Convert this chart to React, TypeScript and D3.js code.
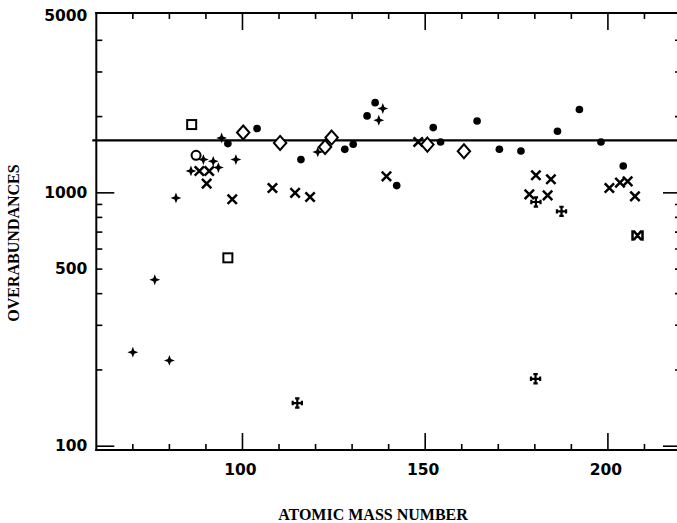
import React from "react";
import * as d3 from "d3";

// ---- data (atomic mass number, overabundance) ----
const filledCircles: [number, number][] = [
  [96, 1565], [104, 1794], [116, 1353], [128, 1485], [130.3, 1555], [134.1, 2012],
  [136.3, 2270], [142.2, 1068], [152.2, 1810], [154.2, 1588], [164.2, 1922],
  [170.3, 1486], [176.2, 1463], [186.2, 1751], [192.2, 2133], [198.1, 1588], [204.2, 1276],
];
const stars: [number, number][] = [
  [70, 235], [76, 454], [80, 218], [81.8, 955], [85.9, 1220], [89.3, 1353], [92, 1332],
  [93.4, 1258], [94.3, 1647], [98.2, 1353], [120.6, 1450], [137.3, 1934], [138.4, 2152],
];
const crosses: [number, number][] = [
  [88.2, 1220], [90.9, 1220], [90.2, 1087], [97.2, 943], [108.2, 1045], [114.4, 1000],
  [118.5, 963], [139.4, 1162], [148.1, 1588], [178.5, 986], [180.3, 1173], [183.5, 977],
  [184.4, 1131], [200.4, 1045], [203.3, 1097], [205.4, 1110], [207.4, 969],
];
const openSquares: [number, number][] = [[86.1, 1860], [96, 554]];
const openDiamonds: [number, number][] = [
  [100.2, 1730], [110.3, 1574], [122.6, 1517], [124.4, 1652], [150.6, 1550], [160.6, 1459],
];
const openCircles: [number, number][] = [[87.3, 1406]];
const maltese: [number, number][] = [[115, 148], [180.3, 920], [187.3, 845], [180.2, 184.5]];
const barredCrosses: [number, number][] = [[208.1, 679]];

const meanLevel = 1610;

const xMajorTicks = [100, 150, 200];
const xMinorTicks = [70, 80, 90, 110, 120, 130, 140, 160, 170, 180, 190, 210];
const yMajorTicks = [100, 1000];
const yMinorTicks = [200, 300, 400, 500, 600, 700, 800, 900, 2000, 3000, 4000];
const yLabels = [100, 500, 1000, 5000];

const xTitle = "ATOMIC MASS NUMBER";
const yTitle = "OVERABUNDANCES";

const W = 677;
const H = 523;
const L = 96.3, R = 681, T = 13, B = 450;

const x = d3.scaleLinear().domain([60, 220]).range([L, R]);
const y = d3.scaleLog().domain([96.6, 5127]).range([B, T]);

const starPath = "M0,-5.4L1.5,-1.5L5.4,0L1.5,1.5L0,5.4L-1.5,1.5L-5.4,0L-1.5,-1.5Z";
const crossPath = "M-3.8,-3.8L3.8,3.8M-3.8,3.8L3.8,-3.8";
const maltesePath = "M-4.6,0H4.6M0,-4.6V4.6M-4.6,-2.2V2.2M4.6,-2.2V2.2M-2.2,-4.6H2.2M-2.2,4.6H2.2";
const diamondPath = "M0,-7L6.2,0L0,7L-6.2,0Z";
const barredPath = "M-3,-3.6L3,3.6M-3,3.6L3,-3.6M-5,-4V4M5,-4V4";

const sansFont = "DejaVu Sans, sans-serif";
const serifFont = "Liberation Serif, serif";

export default function App() {
  const circleSym = d3.symbol(d3.symbolCircle, 46)() as string;
  const tr = (d: [number, number]) => `translate(${x(d[0])},${y(d[1])})`;

  return (
    <svg
      width={W}
      height={H}
      style={{ position: "absolute", left: 0, top: 0, background: "#fff" }}
    >
      <rect x={0} y={0} width={W} height={H} fill="#fff" />

      {/* axes frame */}
      <g stroke="#000" strokeWidth={2} fill="none">
        <line x1={L} x2={L} y1={T - 1} y2={B + 1} />
        <line x1={L - 1} x2={R} y1={B} y2={B} />
        <line x1={L - 1} x2={R} y1={T} y2={T} />
        <line x1={R} x2={R} y1={T} y2={B} />
      </g>

      {/* x ticks */}
      <g stroke="#000" strokeWidth={1.6}>
        {xMinorTicks.map((t) => (
          <g key={"xm" + t}>
            <line x1={x(t)} x2={x(t)} y1={B} y2={B - 6} />
            <line x1={x(t)} x2={x(t)} y1={T} y2={T + 6} />
          </g>
        ))}
        {xMajorTicks.map((t) => (
          <g key={"xM" + t}>
            <line x1={x(t)} x2={x(t)} y1={B} y2={B - 17} />
            <line x1={x(t)} x2={x(t)} y1={T} y2={T + 17} />
          </g>
        ))}
      </g>

      {/* y ticks */}
      <g stroke="#000" strokeWidth={1.6}>
        {yMinorTicks.map((t) => (
          <g key={"ym" + t}>
            <line x1={L} x2={L + 6} y1={y(t)} y2={y(t)} />
            <line x1={R} x2={R - 6} y1={y(t)} y2={y(t)} />
          </g>
        ))}
        {yMajorTicks.map((t) => (
          <g key={"yM" + t}>
            <line x1={L} x2={L + 18} y1={y(t)} y2={y(t)} />
            <line x1={R} x2={R - 18} y1={y(t)} y2={y(t)} />
          </g>
        ))}
      </g>

      {/* tick labels */}
      <g fontFamily={sansFont} fontWeight="bold" fontSize={15.5} fill="#000">
        {yLabels.map((t) => (
          <text key={"yl" + t} x={L - 9} y={y(t)} textAnchor="end" dominantBaseline="central">
            {t}
          </text>
        ))}
        {xMajorTicks.map((t) => (
          <text key={"xl" + t} x={x(t) - 2} y={475} textAnchor="middle">
            {t}
          </text>
        ))}
      </g>

      {/* axis titles */}
      <text
        x={373}
        y={520}
        textAnchor="middle"
        fontFamily={serifFont}
        fontWeight="bold"
        fontSize={16}
      >
        {xTitle}
      </text>
      <text
        transform={`translate(19,243) rotate(-90)`}
        textAnchor="middle"
        fontFamily={serifFont}
        fontWeight="bold"
        fontSize={16}
      >
        {yTitle}
      </text>

      {/* mean level line */}
      <line x1={L - 4} x2={R} y1={y(meanLevel)} y2={y(meanLevel)} stroke="#000" strokeWidth={2.2} />

      {/* markers */}
      <g fill="#000">
        {filledCircles.map((d, i) => (
          <path key={"c" + i} d={circleSym} transform={tr(d)} />
        ))}
        {stars.map((d, i) => (
          <path key={"s" + i} d={starPath} transform={tr(d)} />
        ))}
      </g>
      <g stroke="#000" strokeWidth={2.5} fill="none" strokeLinecap="square">
        {crosses.map((d, i) => (
          <path key={"x" + i} d={crossPath} transform={tr(d)} />
        ))}
        {barredCrosses.map((d, i) => (
          <path key={"b" + i} d={barredPath} transform={tr(d)} />
        ))}
      </g>
      <g stroke="#000" strokeWidth={2.2} fill="none" strokeLinecap="butt">
        {maltese.map((d, i) => (
          <path key={"m" + i} d={maltesePath} transform={tr(d)} />
        ))}
      </g>
      <g stroke="#000" strokeWidth={2} fill="#fff">
        {openSquares.map((d, i) => (
          <rect key={"q" + i} x={x(d[0]) - 4.5} y={y(d[1]) - 4.5} width={9} height={9} />
        ))}
        {openDiamonds.map((d, i) => (
          <path key={"d" + i} d={diamondPath} transform={tr(d)} />
        ))}
        {openCircles.map((d, i) => (
          <circle key={"o" + i} cx={x(d[0])} cy={y(d[1])} r={4.5} />
        ))}
      </g>
    </svg>
  );
}
